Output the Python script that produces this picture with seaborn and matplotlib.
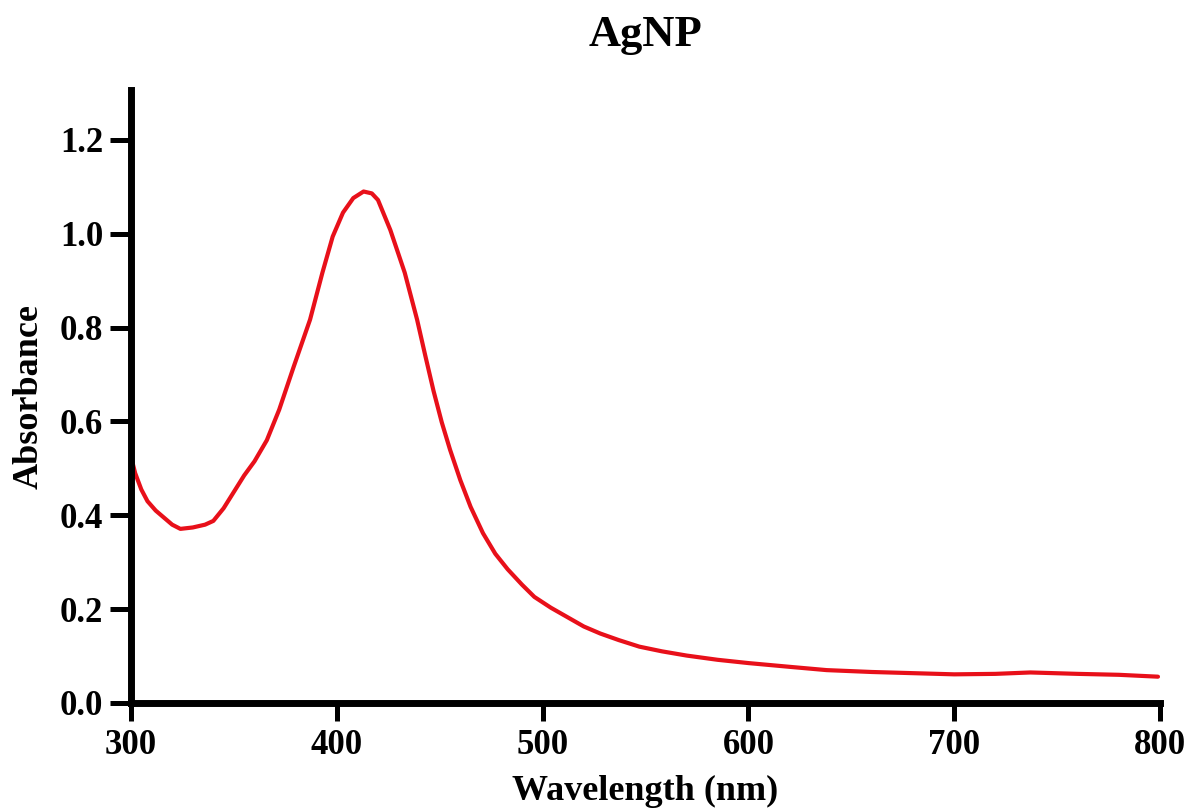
import numpy as np
import pandas as pd
import matplotlib
matplotlib.use("Agg")
import matplotlib.pyplot as plt
import seaborn as sns

# UV-Vis spectrum of AgNP
wavelength = [300, 302, 305, 308, 312, 316, 320, 324, 330, 336, 340, 345, 350,
              355, 360, 366, 372, 379, 387, 393, 398, 403, 408, 413, 417, 420,
              426, 433, 439, 443, 447, 451, 455, 460, 465, 471, 477, 483, 490,
              496, 504, 512, 520, 528, 537, 547, 558, 570, 585, 600, 620, 638,
              660, 684, 700, 720, 737, 760, 780, 799]
absorbance = [0.525, 0.49, 0.455, 0.43, 0.41, 0.395, 0.38, 0.371, 0.374, 0.38,
              0.388, 0.415, 0.45, 0.485, 0.515, 0.56, 0.625, 0.716, 0.817,
              0.917, 0.994, 1.045, 1.076, 1.09, 1.086, 1.072, 1.008, 0.917,
              0.817, 0.74, 0.665, 0.598, 0.54, 0.475, 0.418, 0.362, 0.318,
              0.285, 0.252, 0.226, 0.203, 0.183, 0.163, 0.148, 0.134, 0.12,
              0.11, 0.101, 0.092, 0.085, 0.077, 0.070, 0.066, 0.063, 0.061,
              0.062, 0.065, 0.062, 0.060, 0.056]

df = pd.DataFrame({"wavelength": wavelength, "absorbance": absorbance})

sns.set_style("ticks")
plt.rcParams['font.family'] = ['Liberation Serif', 'DejaVu Serif']
plt.rcParams['font.weight'] = 'bold'
plt.rcParams['text.color'] = 'black'
plt.rcParams['axes.labelcolor'] = 'black'

fig = plt.figure(figsize=(11.91, 8.08), dpi=100)
ax = fig.add_axes([0.110, 0.130, 0.864, 0.759])

sns.lineplot(data=df, x="wavelength", y="absorbance", color="#e8101a",
             linewidth=3, ax=ax)

ax.set_xlim(300, 800)
ax.set_ylim(0, 1.307)
ax.set_xticks([300, 400, 500, 600, 700, 800])
ax.set_yticks([0.0, 0.2, 0.4, 0.6, 0.8, 1.0, 1.2])
ax.set_yticklabels(["0.0", "0.2", "0.4", "0.6", "0.8", "1.0", "1.2"])

sns.despine(ax=ax)
for side in ["left", "bottom"]:
    ax.spines[side].set_linewidth(5)
    ax.spines[side].set_color("black")
    ax.spines[side].set_capstyle("projecting")
ax.tick_params(axis="y", direction="out", length=15, width=3.6,
               labelsize=25, colors="black", pad=5)
ax.tick_params(axis="x", direction="out", length=13, width=3.6,
               labelsize=25, colors="black", pad=6)
for lab in ax.get_xticklabels() + ax.get_yticklabels():
    lab.set_fontweight("bold")

ax.set_xlabel("Wavelength (nm)", fontsize=26, fontweight="bold", labelpad=9)
ax.set_ylabel("Absorbance", fontsize=26, fontweight="bold", labelpad=10)
fig.text(0.542, 0.957, "AgNP", ha="center", va="center", fontsize=32,
         fontweight="bold")

fig.savefig("out.png", dpi=100, facecolor="white")
